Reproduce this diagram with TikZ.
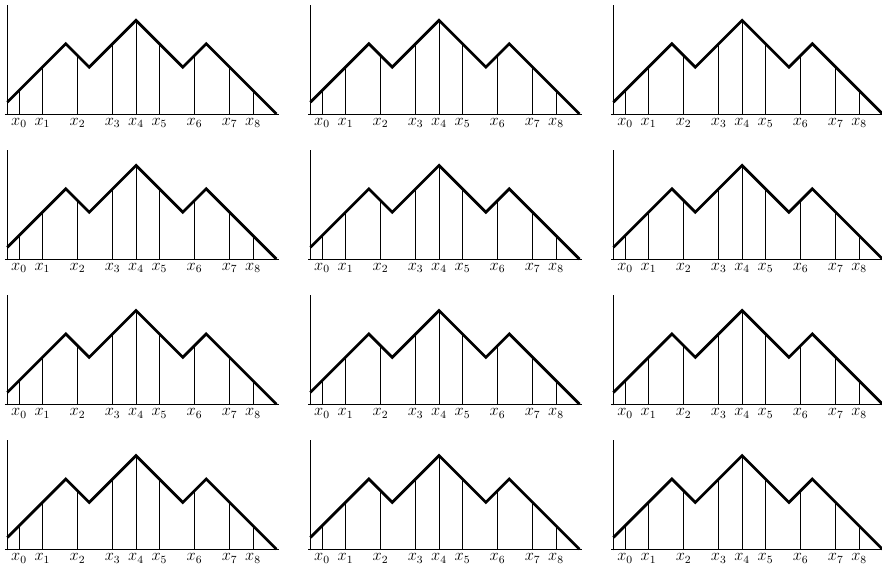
\documentclass[tikz,border=0pt]{standalone}
\begin{document}
\begin{tikzpicture}[x=0.6cm,y=0.6cm,
  curve/.style={line width=2pt, line join=miter},
  axisline/.style={line width=0.55pt},
  ordinate/.style={line width=0.55pt},
  xlab/.style={anchor=north, inner sep=3pt, font=\fontsize{12}{14}\selectfont}]
\useasboundingbox (0,0) rectangle (37.69,24.23);
\foreach \r in {0,1,2,3}{
  \foreach \c in {0,1,2}{
    \begin{scope}[shift={({0.312+12.95*\c},{19.36-6.2*\r})}]
      \coordinate (o-\r-\c) at (0,0);
      \coordinate (xe-\r-\c) at (11.6,0);
      \coordinate (xs-\r-\c) at (-0.1,0);
      \coordinate (ys-\r-\c) at (0,-0.05);
      \coordinate (ye-\r-\c) at (0,4.66);
      \draw[axisline] (xs-\r-\c) -- (xe-\r-\c);
      \draw[axisline] (ys-\r-\c) -- (ye-\r-\c);
      \foreach \i/\x/\y in {0/0.5/1,1/1.5/2,2/3/2.5,3/4.5/3,4/5.5/4,5/6.5/3,6/8/2.5,7/9.5/2,8/10.5/1}{
        \coordinate (b-\r-\c-\i) at (\x,0);
        \coordinate (t-\r-\c-\i) at (\x,\y);
        \draw[ordinate] (b-\r-\c-\i) -- (t-\r-\c-\i);
        \node[xlab] (l-\r-\c-\i) at (b-\r-\c-\i) {$x_{\i}$};
      }
      \coordinate (p0-\r-\c) at (0,0.5);
      \coordinate (p1-\r-\c) at (2.5,3);
      \coordinate (p2-\r-\c) at (3.5,2);
      \coordinate (p3-\r-\c) at (5.5,4);
      \coordinate (p4-\r-\c) at (7.5,2);
      \coordinate (p5-\r-\c) at (8.5,3);
      \coordinate (p6-\r-\c) at (11.5,0);
      \draw[curve] (p0-\r-\c) -- (p1-\r-\c) -- (p2-\r-\c) -- (p3-\r-\c) -- (p4-\r-\c) -- (p5-\r-\c) -- (p6-\r-\c);
    \end{scope}
  }
}
\end{tikzpicture}
\end{document}
